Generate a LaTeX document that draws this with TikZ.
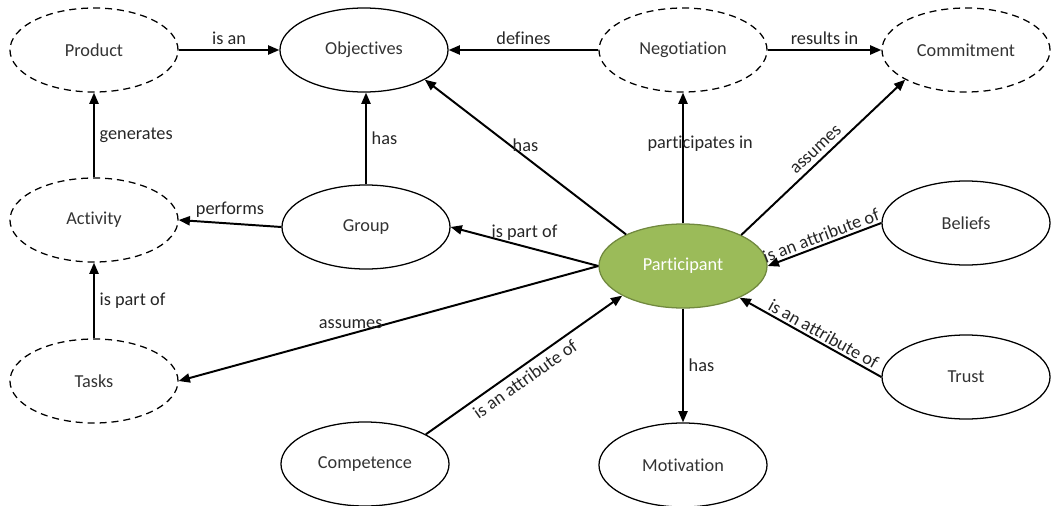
\documentclass[tikz,border=0pt]{standalone}
\usepackage{fontspec}
\setmainfont{Carlito}[Ligatures={NoCommon,NoContextual}]
\usetikzlibrary{arrows.meta,shapes.geometric}

\definecolor{partfill}{HTML}{9BBB59}
\definecolor{partdraw}{HTML}{71893F}

\begin{document}
\begin{tikzpicture}[x=0.025cm, y=-0.025cm, font=\fontsize{13}{15}\selectfont,
  concept/.style={ellipse, draw, line width=0.9pt, minimum width=4.2cm, minimum height=2.1cm, inner sep=0pt, text=black!80},
  ghost/.style={concept, dash pattern=on 5pt off 3.5pt},
  rel/.style={-{Triangle[length=8pt,width=6.5pt]}, line width=1.4pt},
  lbl/.style={text=black!85}]
  \useasboundingbox (0,0) rectangle (1052,506);

  \node[ghost]   (product)     at (94,50)   {Product};
  \node[concept] (objectives)  at (364,50)  {Objectives};
  \node[ghost]   (negotiation) at (683,50)  {Negotiation};
  \node[ghost]   (commitment)  at (966,50)  {Commitment};
  \node[ghost]   (activity)    at (94,220)  {Activity};
  \node[concept] (group)       at (366,227) {Group};
  \node[concept, fill=partfill, draw=partdraw, text=white] (participant) at (683,266) {Participant};
  \node[concept] (beliefs)     at (966,223) {Beliefs};
  \node[ghost]   (tasks)       at (94,381)  {Tasks};
  \node[concept] (trust)       at (966,377) {Trust};
  \node[concept] (competence)  at (365,464) {Competence};
  \node[concept] (motivation)  at (683,465) {Motivation};

  \draw[rel] (product.east) -- node[lbl, above] {is an} (objectives.west);
  \draw[rel] (negotiation.west) -- node[lbl, above] {defines} (objectives.east);
  \draw[rel] (negotiation.east) -- node[lbl, above] {results in} (commitment.west);
  \draw[rel] (activity.north) -- node[lbl, right] {generates} (product.south);
  \draw[rel] (group.west) -- node[lbl, above] {performs} (activity.east);
  \draw[rel] (group.north) -- node[lbl, right] {has} (group.north |- objectives.south);
  \draw[rel] (tasks.north) -- node[lbl, right] {is part of} (activity.south);

  \draw[rel] (participant.151) -- node[lbl, above] {has} (objectives.334);
  \draw[rel] (participant.north) -- node[lbl, pos=0.61, xshift=0.43cm] {participates in} (negotiation.south);
  \draw[rel] (participant.28) -- node[lbl, above, sloped] {assumes} (commitment.206);
  \draw[rel] (participant.west) -- node[lbl, above] {is part of} (group.east);
  \draw[rel] (participant.west) -- node[lbl, above, pos=0.59] {assumes} (tasks.east);
  \draw[rel] (participant.south) -- node[lbl, right] {has} (motivation.north);
  \draw[rel] (competence.26) -- node[lbl, below, sloped, pos=0.47] {is an attribute of} (participant.206);
  \draw[rel] (beliefs.west) -- node[lbl, above, sloped, inner sep=1.5pt] {is an attribute of} (participant.east);
  \draw[rel] (trust.west) -- node[lbl, above, sloped, inner sep=1.5pt, pos=0.44] {is an attribute of} (participant);

\end{tikzpicture}
\end{document}
